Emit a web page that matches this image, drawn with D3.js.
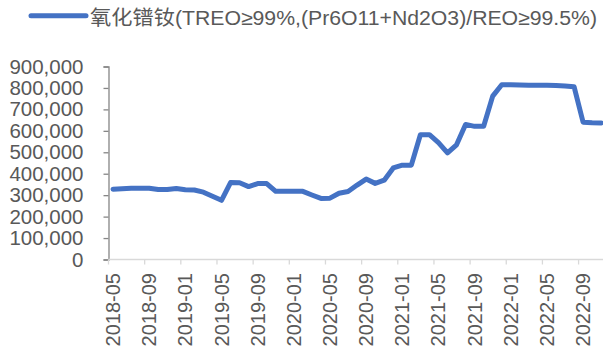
<!DOCTYPE html>
<html>
<head>
<meta charset="utf-8">
<script src="https://cdn.jsdelivr.net/npm/d3@7"></script>
<style>
  html, body { margin: 0; padding: 0; background: #fff; }
  svg { display: block; }
  text { font-family: "Liberation Sans", Arial, "Noto Sans CJK SC", sans-serif; fill: #595959; }
</style>
</head>
<body>
<svg id="chart" width="603" height="356"></svg>
<script>
// Monthly price, yuan/ton, 2018-05 .. 2022-11
const months = [
  "2018-05","2018-06","2018-07","2018-08","2018-09","2018-10","2018-11","2018-12",
  "2019-01","2019-02","2019-03","2019-04","2019-05","2019-06","2019-07","2019-08",
  "2019-09","2019-10","2019-11","2019-12","2020-01","2020-02","2020-03","2020-04",
  "2020-05","2020-06","2020-07","2020-08","2020-09","2020-10","2020-11","2020-12",
  "2021-01","2021-02","2021-03","2021-04","2021-05","2021-06","2021-07","2021-08",
  "2021-09","2021-10","2021-11","2021-12","2022-01","2022-02","2022-03","2022-04",
  "2022-05","2022-06","2022-07","2022-08","2022-09","2022-10","2022-11"
];
const prices = [
  328000, 330000, 332000, 332000, 332000, 326000, 326000, 331000,
  325000, 324000, 314000, 295000, 276000, 359000, 358000, 340000,
  354000, 354000, 318000, 318000, 318000, 318000, 301000, 285000,
  286000, 309000, 317000, 347000, 375000, 355000, 370000, 427000,
  440000, 440000, 582000, 582000, 545000, 497000, 535000, 630000,
  621000, 621000, 762000, 815000, 815000, 814000, 813000, 813000,
  812000, 811000, 809000, 806000, 640000, 638000, 637000
];
const yTicks = [0, 100000, 200000, 300000, 400000, 500000, 600000, 700000, 800000, 900000];
const seriesName = "氧化镨钕(TREO≥99%,(Pr6O11+Nd2O3)/REO≥99.5%)";

const svg = d3.select("#chart");
const left = 108.5, bandW = 9.04;
const x = d3.scaleBand().domain(months).range([left, left + bandW * months.length]).padding(0);
const y = d3.scaleLinear().domain([0, 900000]).range([259.5, 66.5]);

// y axis
const yAxis = d3.axisLeft(y).tickValues(yTicks).tickSize(5).tickPadding(20)
  .tickFormat(d3.format(","));
const gy = svg.append("g").attr("transform", `translate(${left},0)`).call(yAxis);
gy.select(".domain").attr("stroke", "#868686").attr("stroke-width", 1.3);
gy.selectAll(".tick line").attr("stroke", "#868686").attr("stroke-width", 1.3);
gy.selectAll(".tick text").attr("font-size", 20.5).attr("fill", "#595959")
  .style("font-family", '"Liberation Sans", Arial, sans-serif');

// x axis: ticks on category boundaries every 4 months, labels centred on category
const gx = svg.append("g").attr("transform", `translate(0,${y(0)})`);
gx.append("line").attr("x1", left).attr("x2", 603).attr("stroke", "#d9d9d9").attr("stroke-width", 1.3);
const tickIdx = months.map((m, i) => i).filter(i => i % 4 === 0);
gx.selectAll("line.tk").data(tickIdx.concat([56])).join("line").attr("class", "tk")
  .attr("x1", i => left + bandW * i).attr("x2", i => left + bandW * i)
  .attr("y1", 0).attr("y2", 5).attr("stroke", "#d9d9d9").attr("stroke-width", 1.3);
gx.selectAll("text").data(tickIdx).join("text")
  .attr("transform", i => `translate(${x(months[i]) + x.bandwidth() / 2},${273 - y(0)}) rotate(-90)`)
  .attr("text-anchor", "end").attr("dy", "0.35em").attr("font-size", 20)
  .text(i => months[i]);

// series line
const line = d3.line().x((d, i) => x(months[i]) + x.bandwidth() / 2).y(d => y(d));
svg.append("path").datum(prices).attr("d", line)
  .attr("fill", "none").attr("stroke", "#4472c4").attr("stroke-width", 5)
  .attr("stroke-linejoin", "round").attr("stroke-linecap", "round");

// legend
const lg = svg.append("g");
lg.append("line").attr("x1", 31).attr("x2", 86).attr("y1", 15.7).attr("y2", 15.7)
  .attr("stroke", "#4472c4").attr("stroke-width", 5).attr("stroke-linecap", "round");
lg.append("text").attr("x", 90).attr("y", 25).attr("font-size", 20.5)
  .attr("textLength", 507).attr("lengthAdjust", "spacingAndGlyphs")
  .text(seriesName);
</script>
</body>
</html>
